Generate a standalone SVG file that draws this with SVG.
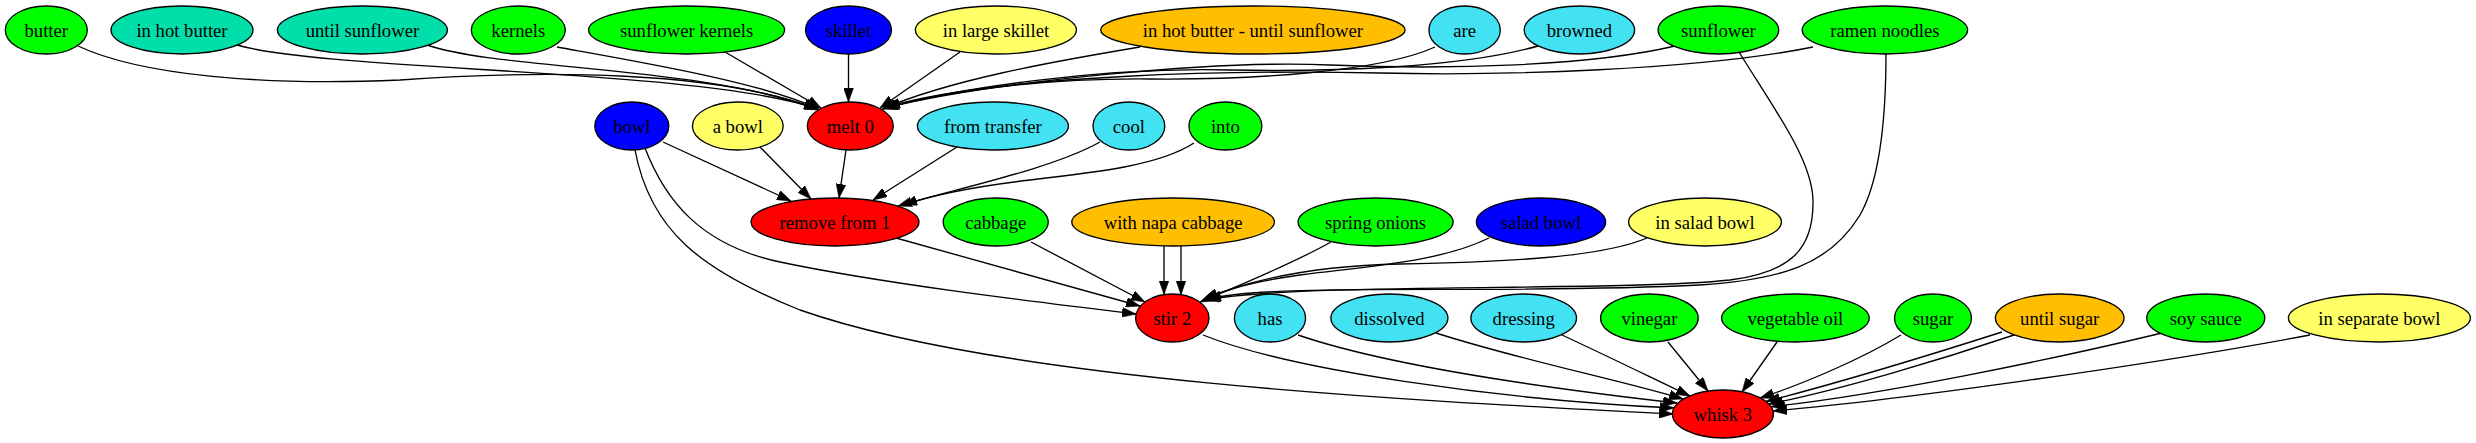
<svg xmlns="http://www.w3.org/2000/svg" width="2476" height="443" viewBox="0 0 2476 443">
<style>
ellipse{stroke:#000;stroke-width:1.33}
.g{fill:#00ff00}.t{fill:#00dfaa}.b{fill:#0000ff}.y{fill:#ffff66}.o{fill:#ffbf00}.c{fill:#42e2f2}.r{fill:#ff0000}
text{font-family:"Liberation Serif","Times New Roman",serif;font-size:18.67px;text-anchor:middle;fill:#000}
#edges path{fill:none;stroke:#000;stroke-width:1.33;marker-end:url(#ah)}
</style>
<defs>
<marker id="ah" markerUnits="userSpaceOnUse" markerWidth="14" markerHeight="10" viewBox="0 0 13.3 9.4" refX="13.3" refY="4.7" orient="auto">
<path d="M0,0 L13.3,4.7 L0,9.4 z" fill="#000" stroke="#000" stroke-width="0.5"/>
</marker>
</defs>
<rect width="2476" height="443" fill="#fff"/>
<g id="edges">
<path d="M78,46 C140,75 260,86 400,80 C540,70 720,70 818,110"/>
<path d="M237,45 C330,72 700,68 818,109"/>
<path d="M427,45 C500,70 700,66 818,109"/>
<path d="M557,47 C640,62 760,82 819,109"/>
<path d="M725,52 L821,108"/>
<path d="M848.5,54 L848.5,102"/>
<path d="M960,52 L880,108"/>
<path d="M1140,47 C1050,62 950,80 882,109"/>
<path d="M1435,47 C1380,72 1250,80 1150,79 C1040,78 940,92 883,109"/>
<path d="M1538,46 C1460,68 1330,72 1230,70 C1100,67 960,88 884,108"/>
<path d="M1675,46 C1590,66 1450,70 1330,65 C1220,60 1000,80 885,108"/>
<path d="M1813,47 C1700,70 1500,76 1380,73 C1240,70 1000,74 886,107"/>
<path d="M663,142 L791,201"/>
<path d="M760,147 L811,199"/>
<path d="M846,150 L839,198"/>
<path d="M957,147 L873,200"/>
<path d="M1100,142 C1050,170 950,190 898,206"/>
<path d="M1194,143 C1160,165 1100,172 1030,180 C970,187 930,196 903,205"/>
<path d="M645,148 C665,200 700,245 780,262 C880,283 1020,300 1136,314"/>
<path d="M635,150 C650,230 700,270 800,310 C1000,380 1400,400 1673,414"/>
<path d="M896,238 L1140,306"/>
<path d="M1031,242 L1145,302"/>
<path d="M1164,246 L1164,294.6"/>
<path d="M1181,246 L1181,294.7"/>
<path d="M1331,242 C1290,265 1240,285 1200,302"/>
<path d="M1489,238 C1440,262 1370,266 1300,275 C1250,282 1225,290 1203,300"/>
<path d="M1647,238 C1600,258 1500,262 1400,264 C1300,266 1240,284 1204,299"/>
<path d="M1739,52 C1775,110 1812,160 1813,200 C1814,250 1790,272 1730,280 C1620,292 1300,282 1206,300"/>
<path d="M1886,53 C1886,120 1880,180 1860,215 C1830,265 1780,280 1700,285 C1500,295 1280,282 1207,299"/>
<path d="M1203,335 C1290,370 1500,400 1674,408"/>
<path d="M1298,335 C1400,370 1580,392 1677,403"/>
<path d="M1436,333 C1520,360 1620,380 1683,399"/>
<path d="M1562,335 C1620,362 1660,382 1690,396"/>
<path d="M1668,342 L1708,391"/>
<path d="M1777,342 L1742,392"/>
<path d="M1901,335 C1860,360 1800,385 1760,398"/>
<path d="M2002,332 C1930,355 1830,385 1766,401.5"/>
<path d="M2014,335 C1940,360 1840,390 1769,404"/>
<path d="M2162,333 C2050,360 1880,395 1771,406.7"/>
<path d="M2310,335 C2150,365 1900,400 1773,411"/>
</g>
<g id="n_butter"><ellipse class="g" cx="46.3" cy="30" rx="41" ry="24"/><text x="46.3" y="36.5">butter</text></g>
<g id="n_in_hot_butter"><ellipse class="t" cx="182" cy="30" rx="71" ry="24"/><text x="182" y="36.5">in hot butter</text></g>
<g id="n_until_sunflower"><ellipse class="t" cx="362.4" cy="30" rx="85" ry="24"/><text x="362.4" y="36.5">until sunflower</text></g>
<g id="n_kernels"><ellipse class="g" cx="518.3" cy="30" rx="47" ry="24"/><text x="518.3" y="36.5">kernels</text></g>
<g id="n_sunflower_kernels"><ellipse class="g" cx="686.6" cy="30" rx="98" ry="24"/><text x="686.6" y="36.5">sunflower kernels</text></g>
<g id="n_skillet"><ellipse class="b" cx="848.5" cy="30" rx="43" ry="24"/><text x="848.5" y="36.5">skillet</text></g>
<g id="n_in_large_skillet"><ellipse class="y" cx="995.9" cy="30" rx="80.5" ry="24"/><text x="995.9" y="36.5">in large skillet</text></g>
<g id="n_in_hot_butter_until_sunflower"><ellipse class="o" cx="1252.9" cy="30" rx="152.2" ry="24"/><text x="1252.9" y="36.5">in hot butter - until sunflower</text></g>
<g id="n_are"><ellipse class="c" cx="1464.6" cy="30" rx="35.7" ry="24"/><text x="1464.6" y="36.5">are</text></g>
<g id="n_browned"><ellipse class="c" cx="1579.4" cy="30" rx="55.2" ry="24"/><text x="1579.4" y="36.5">browned</text></g>
<g id="n_sunflower"><ellipse class="g" cx="1718.4" cy="30" rx="60.3" ry="24"/><text x="1718.4" y="36.5">sunflower</text></g>
<g id="n_ramen_noodles"><ellipse class="g" cx="1884.9" cy="30" rx="82.7" ry="24"/><text x="1884.9" y="36.5">ramen noodles</text></g>
<g id="n_bowl"><ellipse class="b" cx="631.8" cy="126" rx="37" ry="24"/><text x="631.8" y="132.5">bowl</text></g>
<g id="n_a_bowl"><ellipse class="y" cx="737.8" cy="126" rx="45.4" ry="24"/><text x="737.8" y="132.5">a bowl</text></g>
<g id="n_melt_0"><ellipse class="r" cx="850.3" cy="126" rx="43" ry="24"/><text x="850.3" y="132.5">melt 0</text></g>
<g id="n_from_transfer"><ellipse class="c" cx="992.9" cy="126" rx="75.5" ry="24"/><text x="992.9" y="132.5">from transfer</text></g>
<g id="n_cool"><ellipse class="c" cx="1128.9" cy="126" rx="35.9" ry="24"/><text x="1128.9" y="132.5">cool</text></g>
<g id="n_into"><ellipse class="g" cx="1225.4" cy="126" rx="36.5" ry="24"/><text x="1225.4" y="132.5">into</text></g>
<g id="n_remove_from_1"><ellipse class="r" cx="835" cy="222" rx="84" ry="24"/><text x="835" y="228.5">remove from 1</text></g>
<g id="n_cabbage"><ellipse class="g" cx="995.7" cy="222" rx="52.5" ry="24"/><text x="995.7" y="228.5">cabbage</text></g>
<g id="n_with_napa_cabbage"><ellipse class="o" cx="1173.1" cy="222" rx="101.3" ry="24"/><text x="1173.1" y="228.5">with napa cabbage</text></g>
<g id="n_spring_onions"><ellipse class="g" cx="1375.6" cy="222" rx="77.5" ry="24"/><text x="1375.6" y="228.5">spring onions</text></g>
<g id="n_salad_bowl"><ellipse class="b" cx="1541" cy="222" rx="64.6" ry="24"/><text x="1541" y="228.5">salad bowl</text></g>
<g id="n_in_salad_bowl"><ellipse class="y" cx="1705" cy="222" rx="76.4" ry="24"/><text x="1705" y="228.5">in salad bowl</text></g>
<g id="n_stir_2"><ellipse class="r" cx="1172.3" cy="318" rx="36.7" ry="24"/><text x="1172.3" y="324.5">stir 2</text></g>
<g id="n_has"><ellipse class="c" cx="1270" cy="318" rx="35.6" ry="24"/><text x="1270" y="324.5">has</text></g>
<g id="n_dissolved"><ellipse class="c" cx="1389.4" cy="318" rx="58.5" ry="24"/><text x="1389.4" y="324.5">dissolved</text></g>
<g id="n_dressing"><ellipse class="c" cx="1523.7" cy="318" rx="52.8" ry="24"/><text x="1523.7" y="324.5">dressing</text></g>
<g id="n_vinegar"><ellipse class="g" cx="1649.4" cy="318" rx="48.8" ry="24"/><text x="1649.4" y="324.5">vinegar</text></g>
<g id="n_vegetable_oil"><ellipse class="g" cx="1795.4" cy="318" rx="73.8" ry="24"/><text x="1795.4" y="324.5">vegetable oil</text></g>
<g id="n_sugar"><ellipse class="g" cx="1933" cy="318" rx="38.5" ry="24"/><text x="1933" y="324.5">sugar</text></g>
<g id="n_until_sugar"><ellipse class="o" cx="2059.7" cy="318" rx="64.3" ry="24"/><text x="2059.7" y="324.5">until sugar</text></g>
<g id="n_soy_sauce"><ellipse class="g" cx="2205.8" cy="318" rx="59" ry="24"/><text x="2205.8" y="324.5">soy sauce</text></g>
<g id="n_in_separate_bowl"><ellipse class="y" cx="2379.4" cy="318" rx="91" ry="24"/><text x="2379.4" y="324.5">in separate bowl</text></g>
<g id="n_whisk_3"><ellipse class="r" cx="1722.9" cy="414" rx="50.5" ry="24"/><text x="1722.9" y="420.5">whisk 3</text></g>
</svg>
